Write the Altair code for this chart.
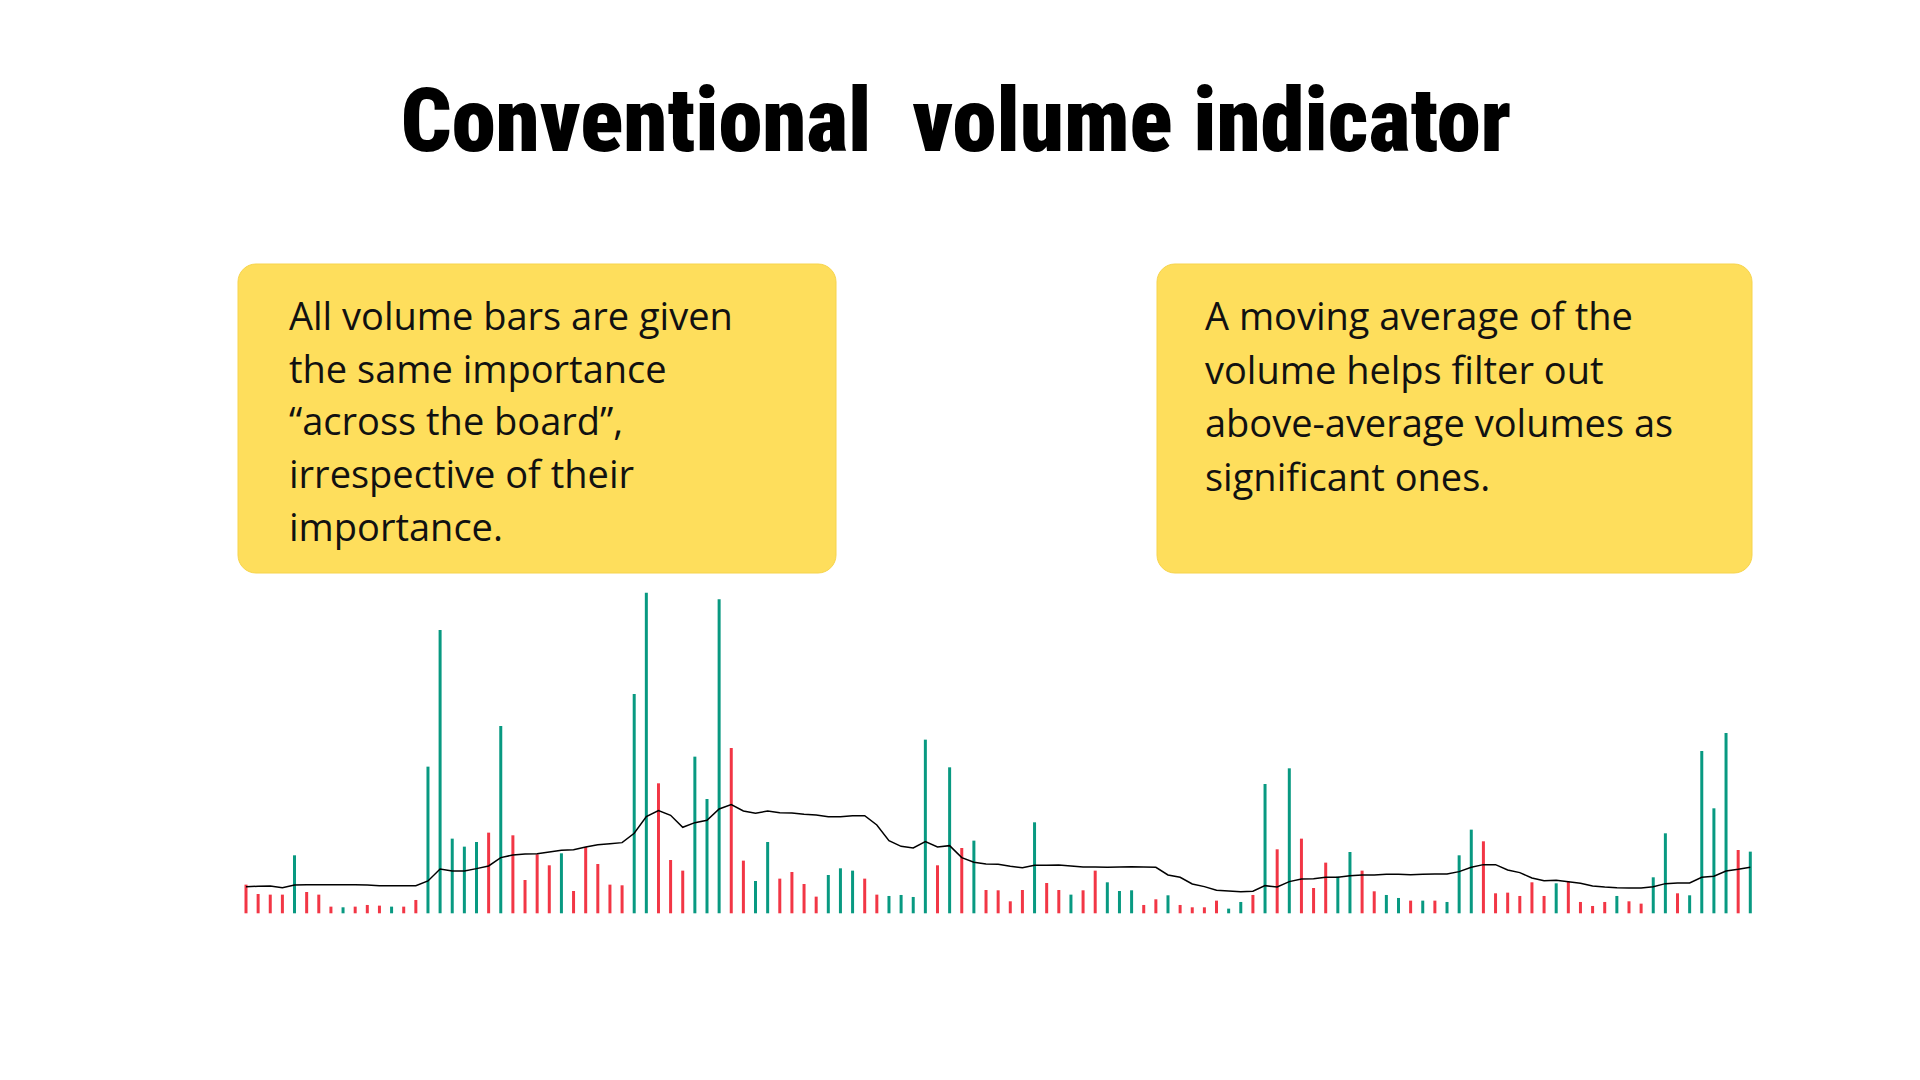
import altair as alt
import pandas as pd

# ---- data ----
volume = [86, 58, 56, 56, 174, 64, 56, 20, 18, 20, 25, 23, 20, 20, 40, 440, 850, 224, 200, 214, 242,
          562, 234, 100, 177, 144, 180, 67, 199, 148, 86, 84, 658, 962, 390, 160, 128, 470, 343, 942, 496, 158,
          97, 214, 104, 124, 88, 50, 115, 135, 128, 104, 56, 52, 55, 49, 521, 144, 438, 196, 218, 70, 69,
          36, 70, 273, 91, 70, 56, 69, 128, 93, 67, 69, 25, 42, 54, 25, 18, 18, 38, 14, 34, 55,
          388, 192, 435, 224, 76, 152, 110, 184, 128, 66, 55, 46, 38, 38, 38, 34, 174, 251, 216, 60, 62,
          52, 93, 52, 90, 95, 34, 22, 34, 52, 36, 29, 108, 240, 60, 54, 487, 315, 541, 190, 185]

# u = up/green, d = down/red
direction = (
    ["d","d","d","d","u","d","d","d","u","d","d","d","u","d","d","u","u","u","u","u","d"]
    + ["u","d","d","d","d","u","d","d","d","d","d","u","u","d","d","d","u","u","u","d","d"]
    + ["u","u","d","d","d","d","u","u","u","d","d","u","u","u","u","d","u","d","u","d","d"]
    + ["d","d","u","d","d","u","d","d","u","u","u","d","d","u","d","d","d","d","u","u","d"]
    + ["u","d","u","d","d","d","u","u","d","d","u","u","d","u","d","u","u","u","d","d","d"]
    + ["d","d","d","u","d","d","d","d","u","d","d","u","u","d","u","u","u","u","d","u"]
)

moving_avg = [80, 81, 82, 77, 85, 86, 86, 86, 86, 86, 85, 83, 83, 83, 83, 97, 133, 127, 127, 134, 142,
              167, 175, 178, 179, 184, 189, 191, 199, 206, 209, 212, 240, 290, 308, 294, 258, 272, 279, 313, 326, 307,
              300, 307, 302, 301, 297, 295, 290, 290, 293, 293, 265, 218, 201, 196, 215, 199, 203, 167, 153, 148, 147,
              141, 137, 144, 144, 145, 142, 139, 139, 138, 139, 140, 139, 138, 115, 108, 88, 80, 69, 67, 65, 66,
              83, 79, 95, 103, 104, 108, 108, 113, 115, 115, 117, 117, 116, 117, 118, 118, 125, 138, 146, 146, 130,
              122, 106, 98, 99, 95, 90, 82, 79, 77, 76, 76, 80, 89, 91, 91, 108, 111, 127, 132, 138]

bar_index = list(range(1, len(volume) + 1))

title_text = "Conventional\u00a0 volume indicator"
left_lines = ["All volume bars are given", "the same importance",
              "\u201cacross the board\u201d,", "irrespective of their", "importance."]
right_lines = ["A moving average of the", "volume helps filter out",
               "above-average volumes as", "significant ones."]

df = pd.DataFrame({"i": bar_index, "vol": volume,
                   "dir": ["up" if d == "u" else "down" for d in direction],
                   "ma": moving_avg})
one = pd.DataFrame({"k": [0]})

xs = alt.Scale(domain=[1, 125], range=[238, 1742.3], padding=0)
ys = alt.Scale(domain=[0, 1000], range=[905.3, 572], padding=0)

bars = alt.Chart(df).mark_bar(size=3).encode(
    x=alt.X("i:Q", scale=xs, axis=None),
    y=alt.Y("vol:Q", scale=ys, axis=None),
    color=alt.Color("dir:N", scale=alt.Scale(domain=["up", "down"], range=["#089981", "#F23645"]), legend=None),
)

line = alt.Chart(df).mark_line(color="black", strokeWidth=1.5).encode(
    x=alt.X("i:Q", scale=xs, axis=None),
    y=alt.Y("ma:Q", scale=ys, axis=None),
)

def box(x0, x1):
    return alt.Chart(one).mark_rect(cornerRadius=18, fill="#FEDE5C", stroke="#F7D44C", strokeWidth=1).encode(
        x=alt.value(x0), x2=alt.value(x1), y=alt.value(256), y2=alt.value(565))

def para(lines, x0, y0, lh):
    return alt.Chart(one).mark_text(text=lines, align="left", baseline="alphabetic", fontSize=38,
                                    font="Open Sans", lineHeight=lh, color="#111111").encode(
        x=alt.value(x0), y=alt.value(y0))

title = alt.Chart(one).mark_text(
    text=title_text, align="center", baseline="alphabetic", fontSize=89,
    font="Noto Sans ExtraCondensed, Noto Sans Condensed, Roboto Condensed, Liberation Sans Narrow, DejaVu Sans Condensed, sans-serif",
    fontWeight=900, color="black").encode(x=alt.value(948), y=alt.value(143))

chart = alt.layer(
    box(230, 828), box(1149, 1744),
    para(left_lines, 281, 322, 52.7), para(right_lines, 1197, 322, 53.6),
    bars, line, title,
).properties(
    width=1904, height=1064, padding=0, autosize=alt.AutoSizeParams(type="none"), background="white"
).configure_view(strokeWidth=0)

chart.save("out.html", embed_options={"renderer": "svg", "actions": False})
